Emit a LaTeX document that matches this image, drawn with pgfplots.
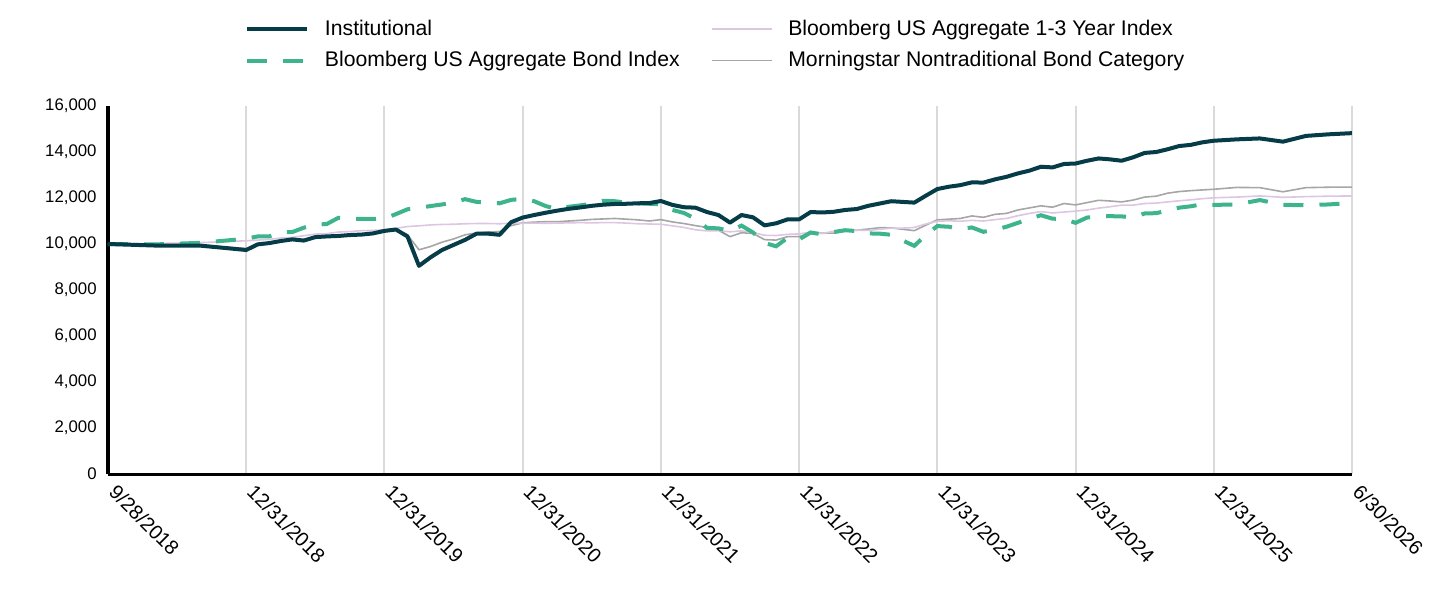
\documentclass[border=0pt]{standalone}
\usepackage{pgfplots}
\pgfplotsset{compat=1.18}
\usepackage{pgfplotstable}
\usepackage{fontspec}
\setmainfont{Liberation Sans}
\definecolor{instc}{HTML}{053C48}
\definecolor{aggc}{HTML}{3DB48C}
\definecolor{shortc}{HTML}{DCC6E2}
\definecolor{mornc}{HTML}{A6A6A6}
\definecolor{gridc}{HTML}{DADADA}
\pgfplotsset{
  inststyle/.style={color=instc, line width=2pt, line join=round},
  aggstyle/.style={color=aggc, line width=2pt, dash pattern=on 10pt off 8pt},
  shortstyle/.style={color=shortc, line width=0.8pt, line join=round},
  mornstyle/.style={color=mornc, line width=0.8pt, line join=round},
}
\pgfplotstableread{
x inst agg short morn
0 10000 10000 10000 10000
0.3333 9935 9980 10020 9950
0.6667 9930 10050 10060 9950
1 9740 10230 10140 9800
1.0833 9985 10330 10170 10000
1.1667 10040 10330 10200 10060
1.25 10130 10510 10260 10140
1.3333 10200 10520 10290 10210
1.4167 10150 10710 10360 10170
1.5 10300 10840 10430 10310
1.5833 10330 10870 10450 10340
1.6667 10350 11140 10520 10350
1.75 10390 11090 10540 10390
1.8333 10410 11090 10580 10420
1.9167 10460 11090 10590 10470
2 10570 11110 10620 10560
2.0833 10630 11300 10680 10620
2.1667 10330 11510 10760 10400
2.25 9050 11570 10790 9750
2.3333 9420 11650 10830 9890
2.4167 9740 11720 10850 10080
2.5 9960 11800 10860 10220
2.5833 10180 11950 10880 10400
2.6667 10450 11830 10890 10480
2.75 10450 11800 10890 10520
2.8333 10400 11770 10880 10540
2.9167 10950 11920 10900 10800
3 11150 11960 10910 10920
3.0833 11260 11860 10910 10950
3.1667 11360 11650 10900 10970
3.25 11450 11520 10910 10970
3.3333 11530 11620 10920 11000
3.4167 11590 11680 10930 11030
3.5 11660 11750 10920 11070
3.5833 11710 11880 10930 11090
3.6667 11740 11860 10930 11110
3.75 11750 11800 10910 11080
3.8333 11770 11770 10880 11050
3.9167 11780 11750 10870 11000
4 11870 11730 10860 11060
4.0833 11700 11480 10790 10960
4.1667 11600 11350 10720 10890
4.25 11580 11100 10620 10800
4.3333 11390 10700 10570 10720
4.4167 11260 10680 10580 10600
4.5 10930 10560 10530 10320
4.5833 11260 10800 10570 10490
4.6667 11160 10500 10500 10460
4.75 10810 10050 10380 10190
4.8333 10900 9900 10370 10170
4.9167 11070 10270 10420 10320
5 11070 10200 10440 10320
5.0833 11390 10500 10510 10480
5.1667 11370 10420 10450 10470
5.25 11400 10520 10560 10470
5.3333 11480 10600 10600 10560
5.4167 11520 10560 10600 10600
5.5 11660 10460 10590 10650
5.5833 11760 10450 10640 10710
5.6667 11860 10400 10690 10700
5.75 11830 10150 10690 10640
5.8333 11800 9920 10720 10580
5.9167 12100 10390 10870 10820
6 12390 10780 10990 11050
6.0833 12490 10750 11010 11080
6.1667 12560 10650 10990 11110
6.25 12680 10720 11030 11220
6.3333 12670 10530 11000 11160
6.4167 12810 10620 11060 11290
6.5 12920 10750 11110 11330
6.5833 13070 10920 11230 11480
6.6667 13190 11100 11330 11570
6.75 13360 11250 11410 11660
6.8333 13330 11100 11350 11600
6.9167 13480 11090 11390 11760
7 13500 10920 11430 11700
7.0833 13620 11150 11480 11800
7.1667 13720 11200 11560 11900
7.25 13680 11210 11620 11870
7.3333 13620 11200 11690 11830
7.4167 13770 11160 11690 11910
7.5 13960 11330 11760 12040
7.5833 14000 11340 11780 12080
7.6667 14120 11460 11830 12210
7.75 14260 11580 11880 12280
7.8333 14310 11640 11920 12320
7.9167 14420 11730 11970 12350
8 14490 11700 12010 12380
8.1667 14550 11720 12040 12460
8.3333 14590 11910 12090 12450
8.5 14450 11700 12030 12270
8.6667 14700 11690 12060 12450
8.8333 14770 11720 12080 12470
9 14820 11790 12090 12470
}\data

\begin{document}
\begin{tikzpicture}
\begin{axis}[
  at={(0pt,0pt)}, anchor=south west,
  scale only axis, width=622pt, height=184pt,
  xmin=0, xmax=9, ymin=0, ymax=16000,
  axis x line*=bottom, axis y line*=left,
  x axis line style={line width=1.5pt, black},
  y axis line style={line width=2pt, black},
  xtick={0,1,2,3,4,5,6,7,8,9},
  xticklabels={9/28/2018,12/31/2018,12/31/2019,12/31/2020,12/31/2021,12/31/2022,12/31/2023,12/31/2024,12/31/2025,6/30/2026},
  ytick={0,2000,4000,6000,8000,10000,12000,14000,16000},
  major tick length=0pt,
  xmajorgrids,
  major grid style={color=gridc, line width=1pt},
  scaled y ticks=false,
  /pgf/number format/1000 sep={,},
  /pgf/number format/assume math mode=true,
  yticklabel style={font=\fontsize{8.4}{10}\selectfont, inner sep=0pt, xshift=-5.5pt},
  xticklabel style={font=\fontsize{10}{12}\selectfont, xshift=5pt, yshift=-4.5pt, rotate=-45, anchor=north west, inner sep=0pt},
  legend columns=2, transpose legend,
  legend cell align=left,
  legend image code/.code={\draw (0pt,0pt) -- (30pt,0pt);},
  legend style={draw=none, fill=none, inner sep=0pt, outer sep=0pt,
    at={(axis description cs:0.1101,1.2337)}, anchor=north west,
    font=\fontsize{10.6}{12}\selectfont, nodes={inner sep=0pt},
    row sep=6.5pt,
    /tikz/every odd column/.style={column sep=8pt},
    /tikz/every even column/.style={column sep=15.5pt}},
]
\addplot[mornstyle, forget plot] table[x=x, y=morn] {\data};
\addplot[shortstyle, forget plot] table[x=x, y=short] {\data};
\addplot[aggstyle, forget plot] table[x=x, y=agg] {\data};
\addplot[inststyle, forget plot] table[x=x, y=inst] {\data};
\addlegendimage{inststyle}
\addlegendentry{Institutional}
\addlegendimage{aggstyle}
\addlegendentry{Bloomberg US Aggregate Bond Index}
\addlegendimage{shortstyle}
\addlegendentry{Bloomberg US Aggregate 1-3 Year Index}
\addlegendimage{mornstyle}
\addlegendentry{Morningstar Nontraditional Bond Category}
\end{axis}
\pgfresetboundingbox
\path (-54pt,-69pt) rectangle (666pt,237pt);
\end{tikzpicture}
\end{document}
